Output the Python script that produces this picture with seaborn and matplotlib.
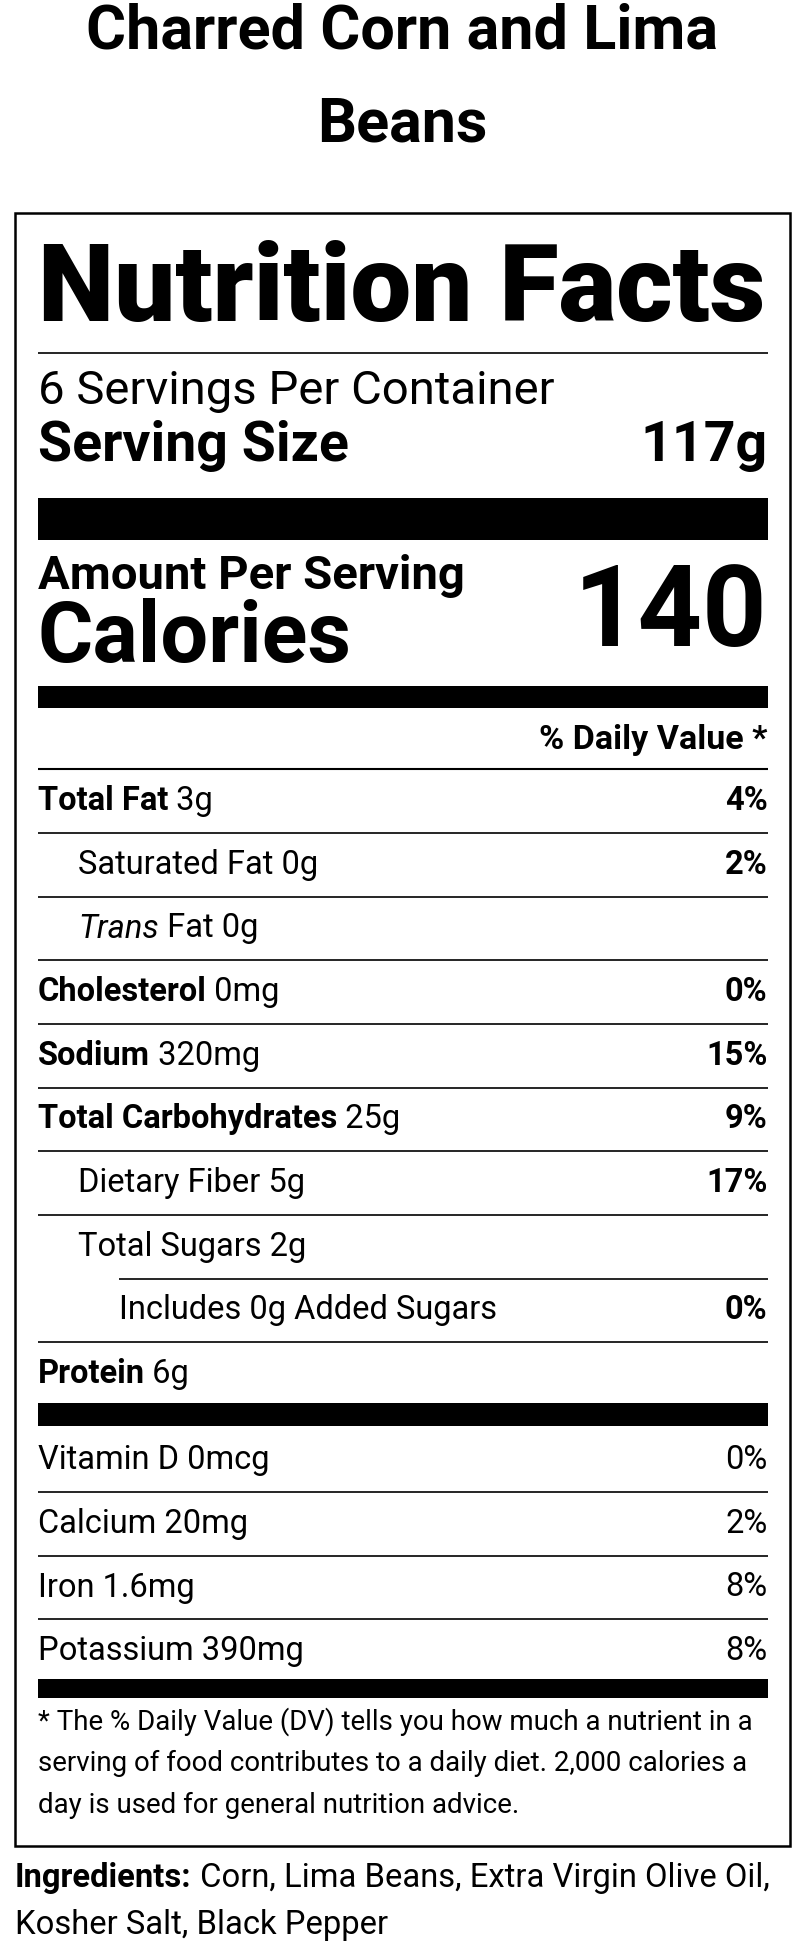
import matplotlib
matplotlib.use("Agg")
import matplotlib.pyplot as plt
import seaborn as sns

title_lines = ["Charred Corn and Lima", "Beans"]
servings = "6 Servings Per Container"
serving_size = "117g"
calories = "140"
main_names = ["Total Fat", "Saturated Fat", "Trans Fat", "Cholesterol", "Sodium",
              "Total Carbohydrates", "Dietary Fiber", "Total Sugars", "Includes 0g Added Sugars", "Protein"]
main_amounts = ["3g", "0g", "0g", "0mg", "320mg", "25g", "5g", "2g", "", "6g"]
main_dv = ["4%", "2%", "", "0%", "15%", "9%", "17%", "", "0%", ""]
main_indent = [0, 1, 1, 0, 0, 0, 1, 1, 2, 0]
vit_names = ["Vitamin D", "Calcium", "Iron", "Potassium"]
vit_amounts = ["0mcg", "20mg", "1.6mg", "390mg"]
vit_dv = ["0%", "2%", "8%", "8%"]
footnote = ["* The % Daily Value (DV) tells you how much a nutrient in a",
            "serving of food contributes to a daily diet. 2,000 calories a",
            "day is used for general nutrition advice."]
ingredients = ["Corn, Lima Beans, Extra Virgin Olive Oil,", "Kosher Salt, Black Pepper"]

sns.set_theme(style="white")
plt.rcParams["font.family"] = "Roboto"
fig = plt.figure(figsize=(8, 19.53), dpi=100)
ax = fig.add_axes([0, 0, 1, 1])
W, H = 640, 1562.4
ax.set_xlim(0, W); ax.set_ylim(H, 0); ax.axis("off")
r = fig.canvas.get_renderer()

def txt(x, y, s, size, weight="normal", ha="left", style="normal"):
    return ax.text(x, y, s, fontsize=size, fontweight=weight, ha=ha, va="center", style=style, color="black")

def width(t):
    bb = t.get_window_extent(renderer=r)
    return bb.width / 800 * W

def runs(x, y, parts, size):
    for s, w, st in parts:
        t = txt(x, y, s, size, w, style=st)
        x += width(t)

def hline(y, lw, x0=30, x1=614):
    ax.plot([x0, x1], [y, y], color="black", lw=lw, solid_capstyle="butt")

for i, l in enumerate(title_lines):
    txt(322, 25 + 75 * i, l, 44, "bold", ha="center")
ax.add_patch(plt.Rectangle((12, 170), 620, 1307, fill=False, lw=1.8, ec="black"))
txt(30, 233, "Nutrition Facts", 78, "black")
hline(282, 1.2)
txt(30, 313, servings, 34)
txt(30, 357, "Serving Size", 40, "bold")
txt(614, 357, serving_size, 40, "bold", ha="right")
ax.add_patch(plt.Rectangle((30, 398), 584, 34, color="black", lw=0))
txt(30, 461, "Amount Per Serving", 34, "bold")
txt(30, 511, "Calories", 61, "bold")
txt(614, 492, calories, 81, "bold", ha="right")
ax.add_patch(plt.Rectangle((30, 549), 584, 17, color="black", lw=0))
txt(614, 592, "% Daily Value *", 24.5, "bold", ha="right")
hline(615, 1.5)

FS = 23.5
y0, step = 641, 50.9
for i, (n, a, d, ind) in enumerate(zip(main_names, main_amounts, main_dv, main_indent)):
    y = y0 + i * step
    x = 30 + ind * 32.5
    if ind == 0:
        parts = [(n, "bold", "normal"), (" " + a, "normal", "normal")]
    elif n == "Trans Fat":
        parts = [("Trans", "normal", "italic"), (" Fat " + a, "normal", "normal")]
    else:
        parts = [(n + (" " + a if a else ""), "normal", "normal")]
    runs(x, y, parts, FS)
    if d:
        txt(614, y, d, FS, "bold", ha="right")
    if i < len(main_names) - 1:
        hline(y + 25.5, 1.2, x0=95 if i == 7 else 30)
ax.add_patch(plt.Rectangle((30, 1122), 584, 19, color="black", lw=0))
for i, (n, a, d) in enumerate(zip(vit_names, vit_amounts, vit_dv)):
    y = 1168 + i * 51
    txt(30, y, n + " " + a, FS)
    txt(614, y, d, FS, ha="right")
    if i < 3:
        hline(y + 25.5, 1.2)
ax.add_patch(plt.Rectangle((30, 1343), 584, 15, color="black", lw=0))
for i, l in enumerate(footnote):
    txt(30, 1377 + 33.5 * i, l, 19.9)
runs(12, 1502, [("Ingredients:", "bold", "normal"), (" " + ingredients[0], "normal", "normal")], 23.6)
txt(12, 1540, ingredients[1], 23.6)
fig.savefig("out.png", dpi=100)
